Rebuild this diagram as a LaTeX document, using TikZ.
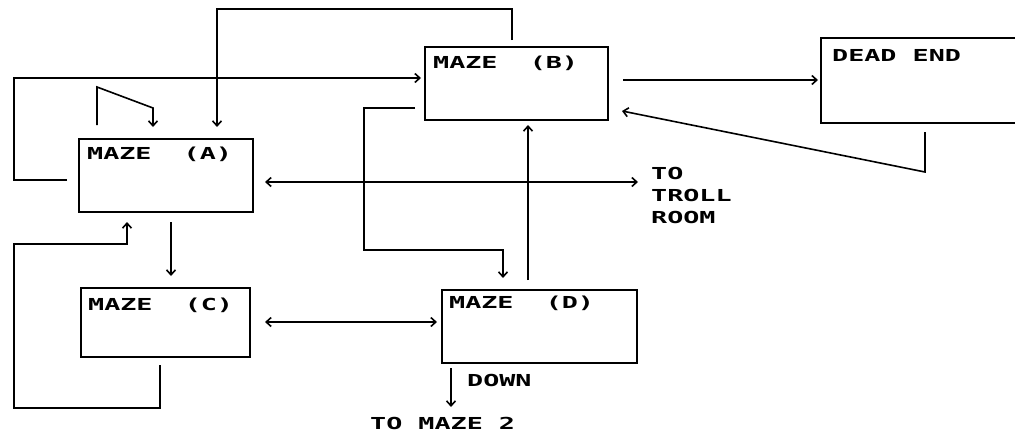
\documentclass[tikz,border=0pt]{standalone}
\usepackage{fontspec}
\newfontfamily\pixfont[FakeStretch=1.62]{DejaVu Sans Mono}
\usetikzlibrary{arrows.meta}

\begin{document}
\begin{tikzpicture}[x=1pt,y=-1pt,
  room/.style={draw,line width=2.2pt,anchor=north west,inner sep=0pt,outer sep=0pt},
  tag/.style={font=\pixfont\bfseries\fontsize{16.5}{22}\selectfont,inner sep=0pt,anchor=west},
  link/.style={line width=1.6pt,-{Straight Barb[length=5pt,width=9pt]}},
  both/.style={link,{Straight Barb[length=5pt,width=9pt]}-{Straight Barb[length=5pt,width=9pt]}}]
  \fill[white] (0,0) rectangle (1015,434);
  \useasboundingbox (0,0) rectangle (1015,434);
  % rooms
  \foreach \n/\x/\y/\w/\h in {A/79/139/174/73, B/425/47/183/73, C/81/288/169/69,
    D/442/290/195/73, E/821/38/200/85} {
    \node[room,minimum width=\w,minimum height=\h] (\n) at (\x,\y) {};
  }
  \foreach \n/\dx/\dy/\t in {A/8/15/{MAZE~~(A)}, B/8/16/{MAZE~~(B)}, C/7/17/{MAZE~~(C)},
    D/7/13/{MAZE~~(D)}, E/11/17/{DEAD~END}} {
    \node[tag] (\n tag) at ([shift={(\dx,\dy)}]\n.north west) {\t};
  }
  \node[tag,anchor=north west,align=left] (troll) at (651,167) {TO\\TROLL\\ROOM};
  \node[tag] (down) at (467,380) {DOWN};
  \node[tag] (maze2) at (370,423) {TO MAZE 2};
  \coordinate (trollend) at (638,182);
  % connectors
  \draw[link] ([shift={(87,-7)}]B.north west) -- ++(0,-31) -| ([shift={(138,-12)}]A.north west);
  \draw[link] ([shift={(-12,41)}]A.north west) -- ++(-53,0) |- ([shift={(-4,31)}]B.north west);
  \draw[link] ([shift={(18,-14)}]A.north west) -- ++(0,-38) -- ++(56,21) -- ++(0,19);
  \draw[link] ([shift={(-10,61)}]B.north west) -- ++(-51,0) -- ++(0,142) -| ([shift={(61,-12)}]D.north west);
  \draw[both] ([shift={(12,43)}]A.north east) -- (trollend);
  \draw[link] ([shift={(86,-10)}]D.north west) -- ([shift={(103,5)}]B.south west);
  \draw[link] ([shift={(15,33)}]B.north east) -- ([shift={(-3,42)}]E.north west);
  \draw[link] ([shift={(104,9)}]E.south west) -- ++(0,40) -- ([shift={(14,64)}]B.north east);
  \draw[link] ([shift={(92,10)}]A.south west) -- ([shift={(90,-12)}]C.north west);
  \draw[link] ([shift={(79,8)}]C.south west) -- ++(0,43) -- ++(-146,0) -- ++(0,-164) -| ([shift={(48,10)}]A.south west);
  \draw[both] ([shift={(15,34)}]C.north east) -- ([shift={(-5,32)}]D.north west);
  \draw[link] ([shift={(9,5)}]D.south west) -- ++(0,39);
\end{tikzpicture}
\end{document}
